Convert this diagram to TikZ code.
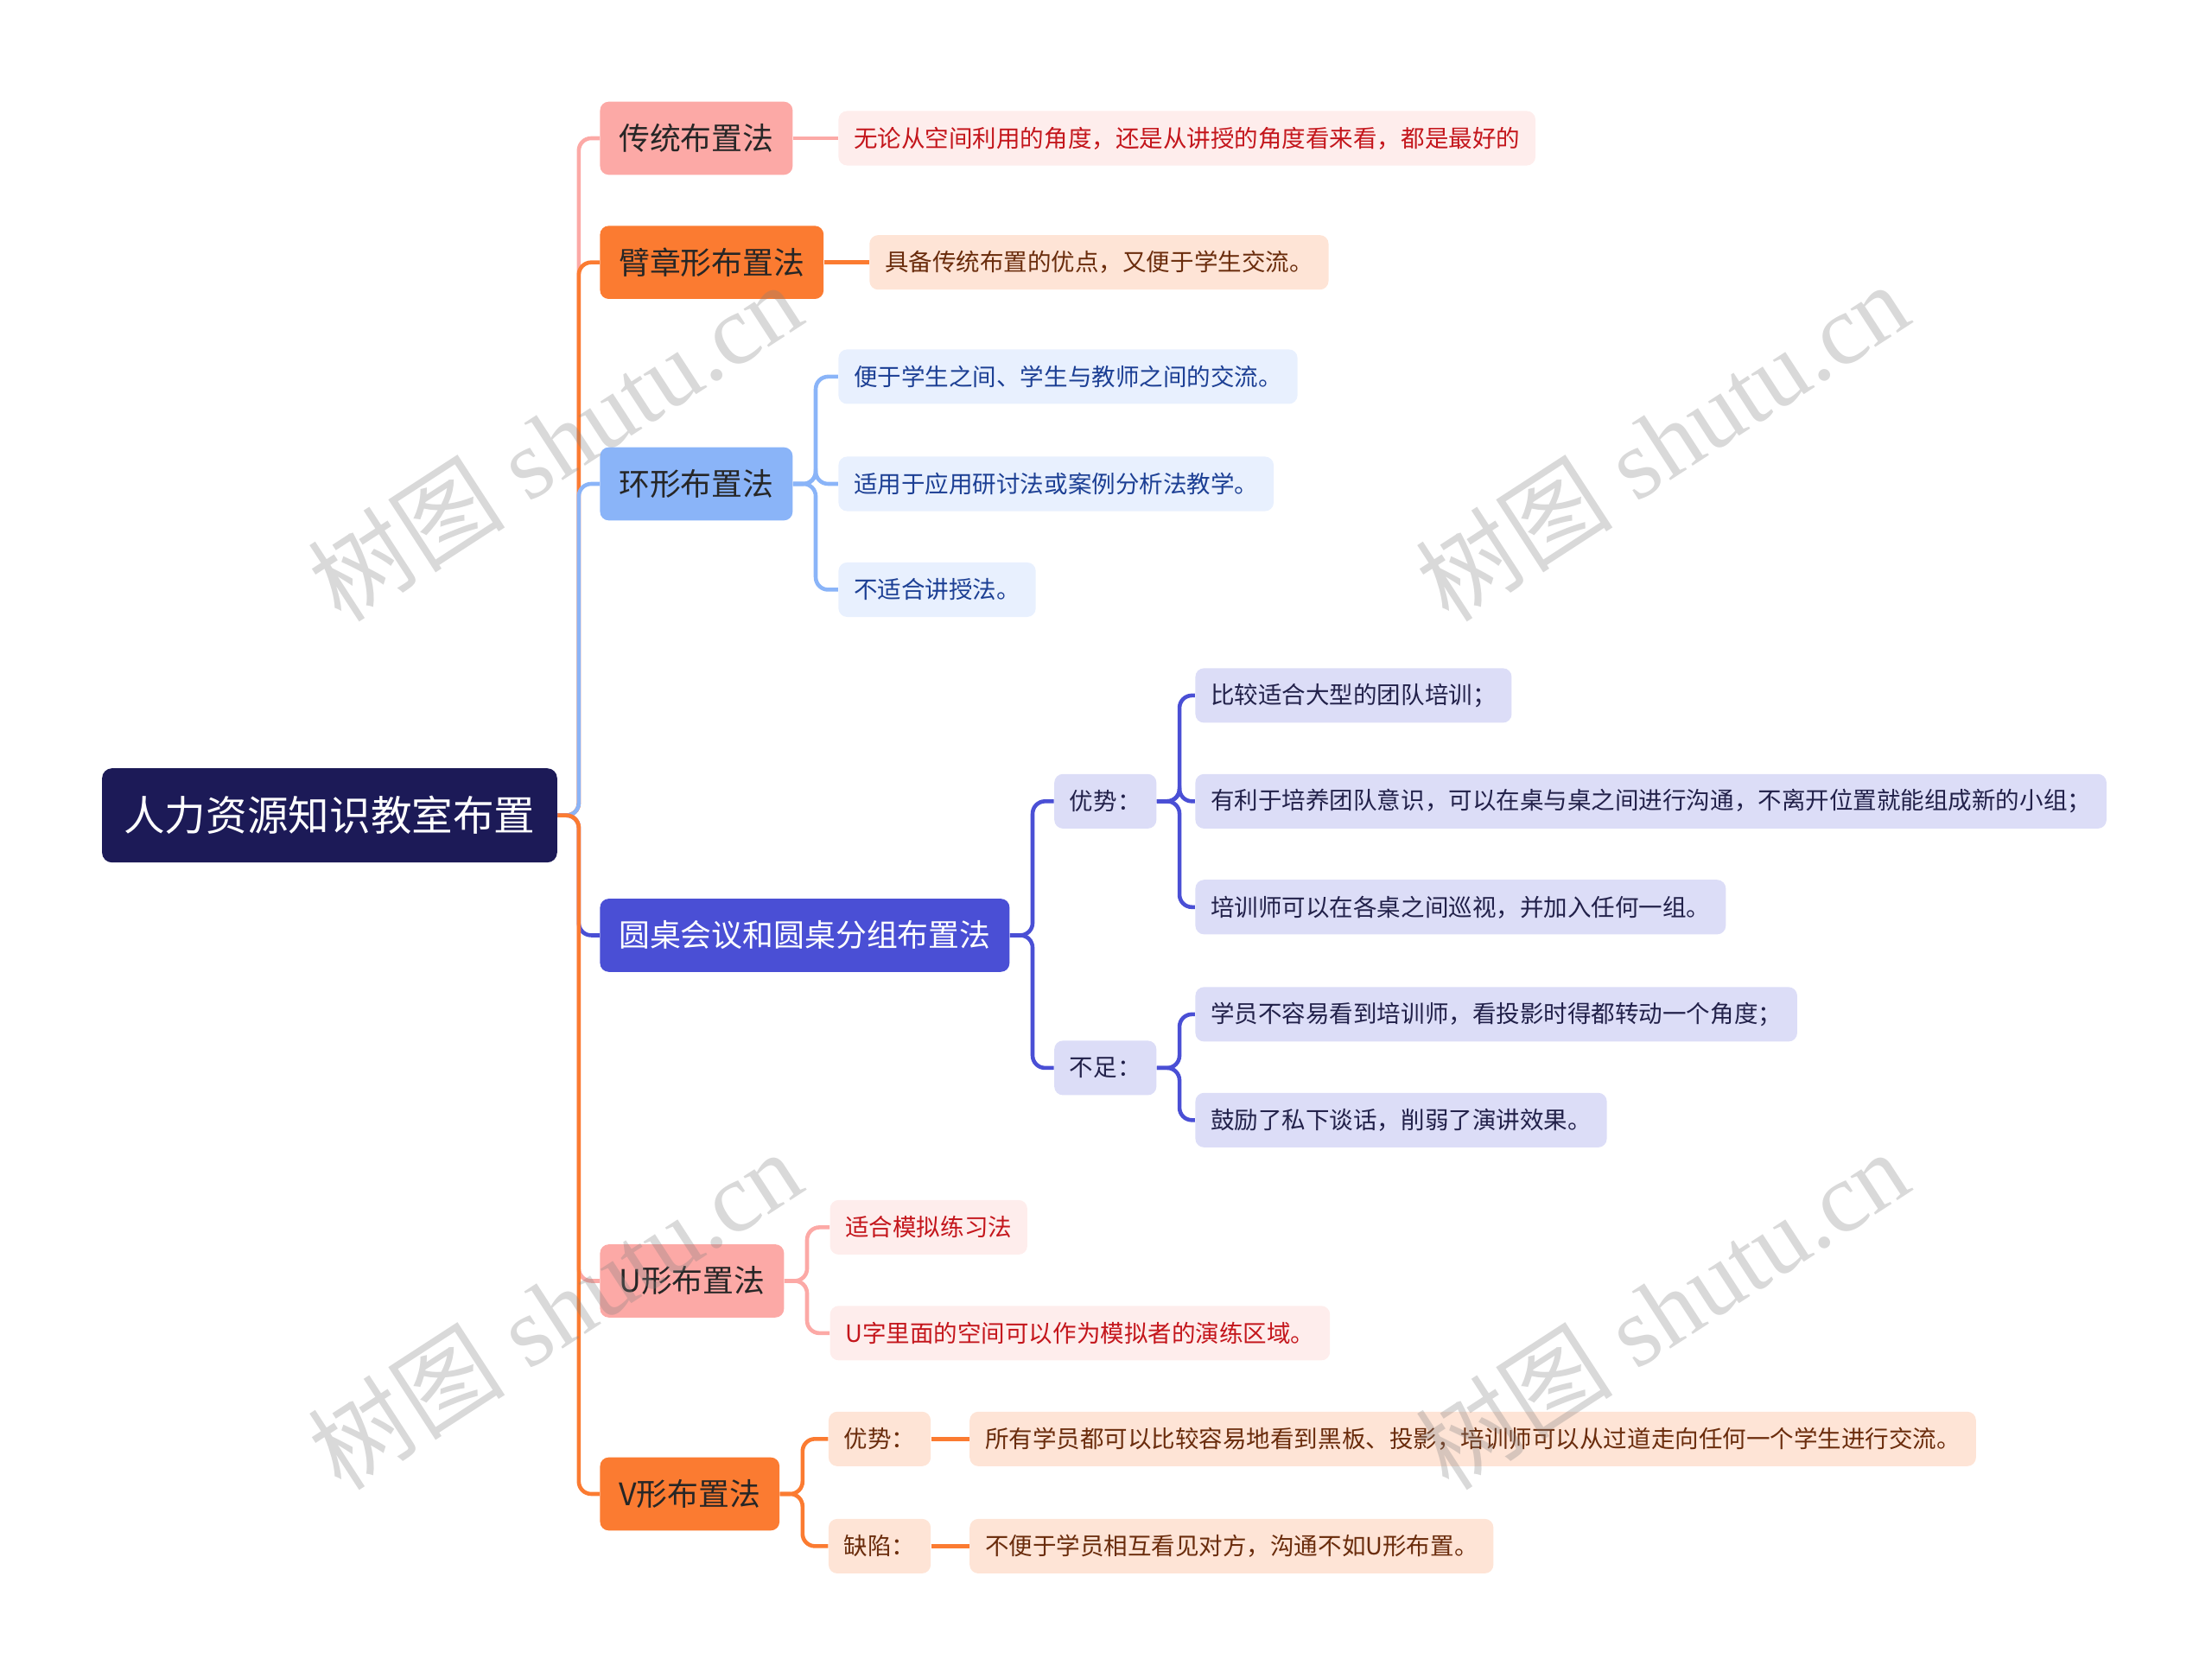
\documentclass[tikz,border=0pt]{standalone}
\usepackage{fontspec}
\newfontfamily\cjk{Noto Sans CJK SC}
\newfontfamily\wmfont{Liberation Serif}
\definecolor{rootc}{HTML}{1C1A57}
\definecolor{pinkc}{HTML}{FCA9A6}
\definecolor{orangec}{HTML}{FB7B31}
\definecolor{bluec}{HTML}{8AB4F8}
\definecolor{purplec}{HTML}{4A4FD5}
\definecolor{pinkleaf}{HTML}{FEEDEC}
\definecolor{pinktext}{HTML}{C4161C}
\definecolor{peachleaf}{HTML}{FEE4D6}
\definecolor{peachtext}{HTML}{6A2C0C}
\definecolor{blueleaf}{HTML}{E8F0FE}
\definecolor{bluetext}{HTML}{1C3F94}
\definecolor{lavleaf}{HTML}{DCDDF7}
\definecolor{lavtext}{HTML}{22214A}
\tikzset{
  box/.style={rounded corners=3.5pt, anchor=west, inner ysep=0pt},
  rootbox/.style={box, fill=rootc, text=white, font=\cjk\fontsize{16.6}{20}\selectfont, minimum height=38pt, inner xsep=8.8pt, rounded corners=4pt},
  topic/.style={box, minimum height=29.5pt, inner xsep=7.6pt, text=black!85, font=\cjk\fontsize{12.5}{15}\selectfont},
  leaf/.style={box, minimum height=22pt, inner xsep=6.2pt, font=\cjk\fontsize{9.6}{12}\selectfont},
  pinkbox/.style={leaf, fill=pinkleaf, text=pinktext},
  peachbox/.style={leaf, fill=peachleaf, text=peachtext},
  bluebox/.style={leaf, fill=blueleaf, text=bluetext},
  lavbox/.style={leaf, fill=lavleaf, text=lavtext},
  link/.style={line width=1.6pt, rounded corners=5pt},
  wmark/.style={text=gray, opacity=0.3, rotate=33, font=\wmfont\fontsize{40}{46}\selectfont}
}
\begin{document}
\begin{tikzpicture}[x=0.02cm, y=-0.02cm]
	\useasboundingbox (0,0) rectangle (1568,1189);
	\node[rootbox] (root) at (72,578) {人力资源知识教室布置};
	% main topics
	\node[topic, fill=pinkc] (trad) at (425,98) {传统布置法};
	\node[topic, fill=orangec] (arm) at (425,186) {臂章形布置法};
	\node[topic, fill=bluec] (ring) at (425,343) {环形布置法};
	\node[topic, fill=purplec, text=white] (round) at (425,663) {圆桌会议和圆桌分组布置法};
	\node[topic, fill=pinkc] (ushape) at (425,908) {U形布置法};
	\node[topic, fill=orangec] (vshape) at (425,1059) {V形布置法};
	\foreach \t/\c in {trad/pinkc, arm/orangec, ring/bluec, round/purplec, ushape/pinkc, vshape/orangec} {\draw[link, \c] (root.east) -- ++(15,0) |- (\t.west);}
	% leaves
	\node[pinkbox] (trad1) at (594,98) {无论从空间利用的角度，还是从讲授的角度看来看，都是最好的};
	\draw[link, pinkc] (trad.east) -- (trad1.west);
	\node[peachbox] (arm1) at (616,186) {具备传统布置的优点，又便于学生交流。};
	\draw[link, orangec] (arm.east) -- (arm1.west);
	\foreach \n/\y/\l in {ring1/267/{便于学生之间、学生与教师之间的交流。}, ring2/343/{适用于应用研讨法或案例分析法教学。}, ring3/418/{不适合讲授法。}} {\node[bluebox] (\n) at (594,\y) {\l}; \draw[link, bluec] (ring.east) -- ++(16,0) |- (\n.west);}
	\node[lavbox] (pro) at (747,568) {优势：};
	\node[lavbox] (con) at (747,757) {不足：};
	\foreach \n in {pro, con} {\draw[link, purplec] (round.east) -- ++(16,0) |- (\n.west);}
	\foreach \n/\y/\l in {pro1/493/{比较适合大型的团队培训；}, pro2/568/{有利于培养团队意识，可以在桌与桌之间进行沟通，不离开位置就能组成新的小组；}, pro3/643/{培训师可以在各桌之间巡视，并加入任何一组。}} {\node[lavbox] (\n) at (847,\y) {\l}; \draw[link, purplec] (pro.east) -- ++(16,0) |- (\n.west);}
	\foreach \n/\y/\l in {con1/719/{学员不容易看到培训师，看投影时得都转动一个角度；}, con2/794/{鼓励了私下谈话，削弱了演讲效果。}} {\node[lavbox] (\n) at (847,\y) {\l}; \draw[link, purplec] (con.east) -- ++(16,0) |- (\n.west);}
	\foreach \n/\y/\l in {u1/870/{适合模拟练习法}, u2/945/{U字里面的空间可以作为模拟者的演练区域。}} {\node[pinkbox] (\n) at (588,\y) {\l}; \draw[link, pinkc] (ushape.east) -- ++(16,0) |- (\n.west);}
	\node[peachbox] (vpro) at (587,1020) {优势：};
	\node[peachbox] (vcon) at (587,1096) {缺陷：};
	\foreach \n in {vpro, vcon} {\draw[link, orangec] (vshape.east) -- ++(16,0) |- (\n.west);}
	\node[peachbox] (vpro1) at (687,1020) {所有学员都可以比较容易地看到黑板、投影，培训师可以从过道走向任何一个学生进行交流。};
	\node[peachbox] (vcon1) at (687,1096) {不便于学员相互看见对方，沟通不如U形布置。};
	\draw[link, orangec] (vpro.east) -- (vpro1.west);
	\draw[link, orangec] (vcon.east) -- (vcon1.west);
	% watermark
	\foreach \x/\y in {393/313, 1178/313, 393/928, 1178/928} {\node[wmark] at (\x,\y) {{\cjk 树图} shutu.cn};}
\end{tikzpicture}
\end{document}
